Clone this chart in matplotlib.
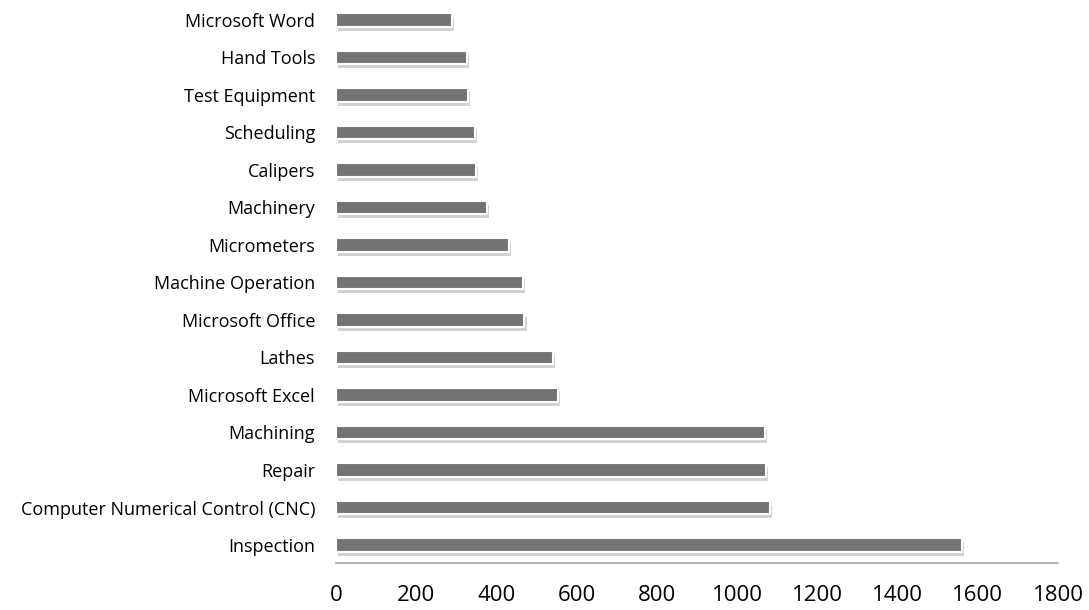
import matplotlib
matplotlib.use("Agg")
import matplotlib.pyplot as plt
import matplotlib.patheffects as pe

plt.rcParams['font.family'] = ['Open Sans', 'DejaVu Sans']

# data, bottom bar first
skills = ["Inspection", "Computer Numerical Control (CNC)", "Repair", "Machining",
          "Microsoft Excel", "Lathes", "Microsoft Office", "Machine Operation",
          "Micrometers", "Machinery", "Calipers", "Scheduling", "Test Equipment",
          "Hand Tools", "Microsoft Word"]
counts = [1560, 1082, 1072, 1070, 553, 541, 470, 466, 431, 376, 349, 347, 329, 327, 289]
xticks = [0, 200, 400, 600, 800, 1000, 1200, 1400, 1600, 1800]

fig = plt.figure(figsize=(10.89, 6.10), dpi=100)
ax = fig.add_axes([0.3085, 0.077, 0.663, 0.923])

bars = ax.barh(range(len(skills)), counts, height=0.36, color="#737373",
               edgecolor="white", linewidth=1.5)
for b in bars:
    b.set_path_effects([pe.SimplePatchShadow(offset=(1.5, -3), shadow_rgbFace="#808080", alpha=0.35),
                        pe.Normal()])

ax.set_xlim(0, 1800)
ax.set_ylim(-0.48, 14.53)
ax.set_yticks(range(len(skills)))
ax.set_yticklabels(skills, fontsize=13)
ax.set_xticks(xticks)
ax.set_xticklabels([str(t) for t in xticks], fontsize=16)
ax.tick_params(axis="both", length=0)
ax.tick_params(axis="y", pad=15)
ax.tick_params(axis="x", pad=16)

for s in ["top", "right", "left"]:
    ax.spines[s].set_visible(False)
ax.spines["bottom"].set_color("#a6a6a6")
ax.spines["bottom"].set_linewidth(1.2)

fig.savefig("out.png", dpi=100)
